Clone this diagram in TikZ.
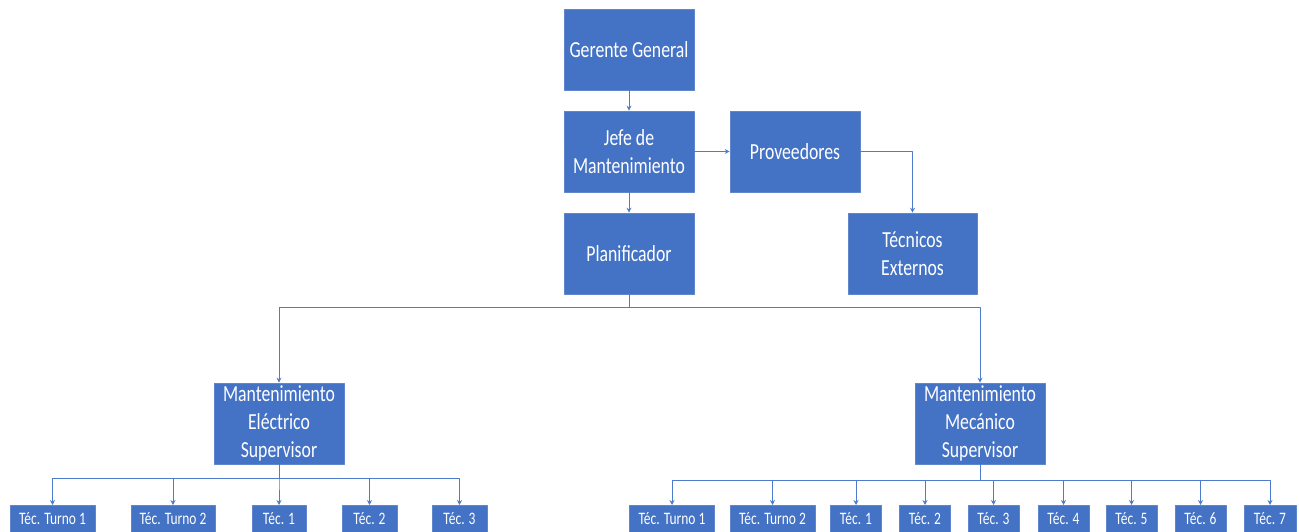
\documentclass[tikz,border=0pt]{standalone}
\usepackage{tikz}
\usepackage{xcolor}
\usepackage{fontspec}
\usetikzlibrary{arrows.meta}
\setmainfont{Carlito}[FakeStretch=0.77]
\definecolor{officeblue}{RGB}{68,114,196}
\definecolor{lineblue}{RGB}{78,124,204}

\begin{document}
\begin{tikzpicture}[line join=bevel,
        bluebox/.style={shape=rectangle, fill=officeblue, draw=officeblue!85!white, line width=0.6pt, text=white,
          minimum width=130pt, minimum height=81pt, inner sep=0pt, align=center, font=\fontsize{23}{28}\selectfont},
        smallbluebox/.style={shape=rectangle, fill=officeblue, draw=officeblue!85!white, line width=0.6pt, text=white,
          minimum height=27pt, inner sep=0pt, anchor=north, font=\fontsize{17.5}{20}\selectfont},
        connector/.style={lineblue, line width=1pt, -{Stealth[length=5pt,width=5pt]}}]
        \useasboundingbox (0pt, 0pt) rectangle (1299pt, -532pt);
        % Upper boxes
        \node[bluebox] (gerente) at (629pt, -49.5pt) {Gerente General};
        \node[bluebox] (jefe) at (629pt, -151.5pt) {Jefe de\\Mantenimiento};
        \node[bluebox] (proveedores) at (795pt, -151.5pt) {Proveedores};
        \node[bluebox] (planificador) at (629pt, -253.5pt) {Planificador};
        \node[bluebox, minimum width=129pt] (externos) at (912.5pt, -253.5pt) {Técnicos\\Externos};
        % Supervisors
        \node[bluebox] (electrico) at (279pt, -423.5pt) {Mantenimiento\\Eléctrico\\Supervisor};
        \node[bluebox] (mecanico) at (980pt, -423.5pt) {Mantenimiento\\Mecánico\\Supervisor};
        % Connectors
        \draw[connector] (gerente) -- (jefe);
        \draw[connector] (jefe) -- (planificador);
        \draw[connector] (jefe) -- (proveedores);
        \draw[connector] (proveedores.east) -| (externos.north);
        \draw[connector] (planificador.south) -- ++(0pt, -13pt) -| (electrico.north);
        \draw[connector] (planificador.south) -- ++(0pt, -13pt) -| (mecanico.north);
        % Electrical technicians
        \foreach \n/\x/\w/\txt in {1/52.5pt/85pt/Téc. Turno 1, 2/173pt/84pt/Téc. Turno 2, 3/279pt/54pt/Téc. 1, 4/369.5pt/55pt/Téc. 2, 5/459.5pt/55pt/Téc. 3} {
          \node[smallbluebox, minimum width=\w] (ele\n) at (\x, -505pt) {\txt};
          \draw[connector] (electrico.south) -- ++(0pt, -14pt) -| (ele\n.north);
        }
        % Mechanical technicians
        \foreach \n/\x/\w/\txt in {1/672pt/85pt/Téc. Turno 1, 2/772.5pt/85pt/Téc. Turno 2, 3/856pt/51pt/Téc. 1, 4/925pt/51pt/Téc. 2, 5/993.5pt/51pt/Téc. 3,
            6/1063.5pt/51pt/Téc. 4, 7/1131.5pt/51pt/Téc. 5, 8/1200.5pt/51pt/Téc. 6, 9/1270pt/52pt/Téc. 7} {
          \node[smallbluebox, minimum width=\w] (mec\n) at (\x, -505pt) {\txt};
          \draw[connector] (mecanico.south) -- ++(0pt, -16pt) -| (mec\n.north);
        }
\end{tikzpicture}
\end{document}
